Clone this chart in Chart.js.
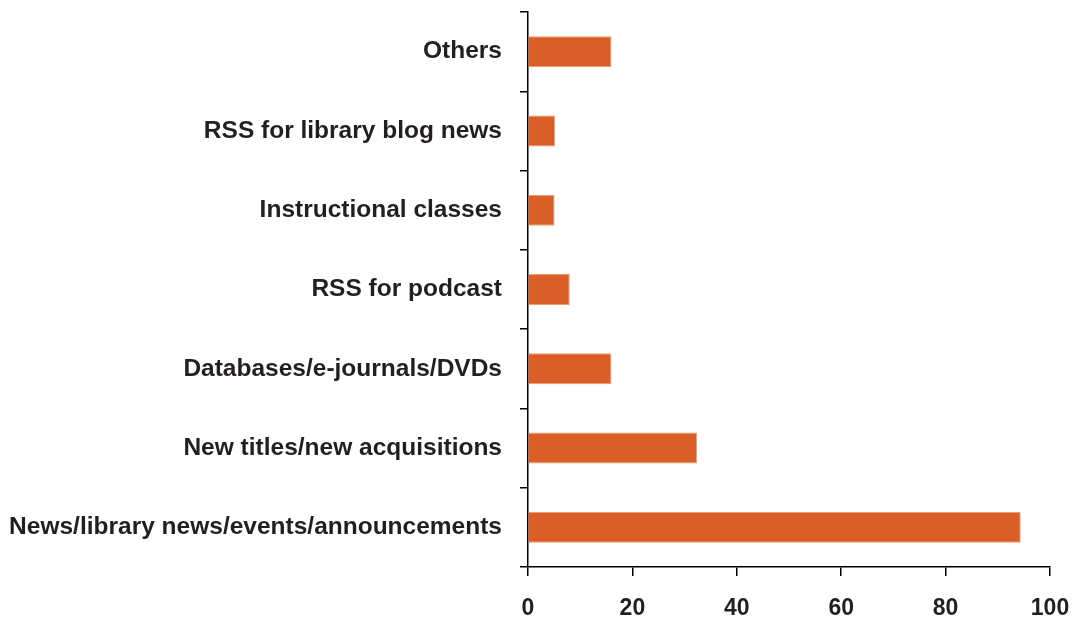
<!DOCTYPE html>
<html>
<head>
<meta charset="utf-8">
<script src="https://cdn.jsdelivr.net/npm/chart.js@4/dist/chart.umd.min.js"></script>
<style>
  html, body { margin: 0; padding: 0; background: #fff; }
  #wrap { width: 1078px; height: 620px; }
</style>
</head>
<body>
<div id="wrap"><canvas id="myChart" width="1078" height="620"></canvas></div>
<script>
// categories, top to bottom
const categories = [
  "Others",
  "RSS for library blog news",
  "Instructional classes",
  "RSS for podcast",
  "Databases/e-journals/DVDs",
  "New titles/new acquisitions",
  "News/library news/events/announcements"
];
const values = [16, 5.2, 5.1, 8, 16, 32.4, 94.4];
const xTicks = [0, 20, 40, 60, 80, 100];

const ink = "#231f20";

var ctx = document.getElementById('myChart').getContext('2d');
var myChart = new Chart(ctx, {
  type: 'bar',
  data: {
    labels: categories,
    datasets: [{
      data: values,
      backgroundColor: "#d95e27",
      borderColor: "#f29a70",
      borderWidth: 1,
      barPercentage: 0.39,
      categoryPercentage: 1.0,
    }]
  },
  options: {
    indexAxis: 'y',
    responsive: false,
    animation: false,
    layout: { padding: { top: 12, right: 28, left: 0, bottom: 0 } },
    plugins: { legend: { display: false }, tooltip: { enabled: false } },
    scales: {
      x: {
        min: xTicks[0],
        max: xTicks[xTicks.length - 1],
        afterBuildTicks: (scale) => { scale.ticks = xTicks.map(v => ({ value: v })); },
        afterFit: (scale) => {
          scale.height = 53;
          scale.paddingLeft = 0;
          scale.paddingRight = 0;
        },
        border: { display: true, color: "#000", width: 1.5 },
        grid: { drawOnChartArea: false, drawTicks: true, tickLength: 9, color: "#000", lineWidth: 1.5 },
        ticks: {
          color: ink,
          padding: 19,
          maxRotation: 0,
          font: { family: "'Liberation Sans', Arial, sans-serif", size: 23, weight: 'bold' }
        }
      },
      y: {
        afterFit: (scale) => {
          scale.width = 528;
          scale.paddingTop = 0;
          scale.paddingBottom = 0;
        },
        border: { display: true, color: "#000", width: 1.5 },
        grid: { drawOnChartArea: false, drawTicks: true, tickLength: 8, color: "#000", lineWidth: 1.5 },
        ticks: {
          color: ink,
          padding: 18,
          font: { family: "'Liberation Sans', Arial, sans-serif", size: 24.5, weight: 'bold' }
        }
      }
    }
  }
});
</script>
</body>
</html>
